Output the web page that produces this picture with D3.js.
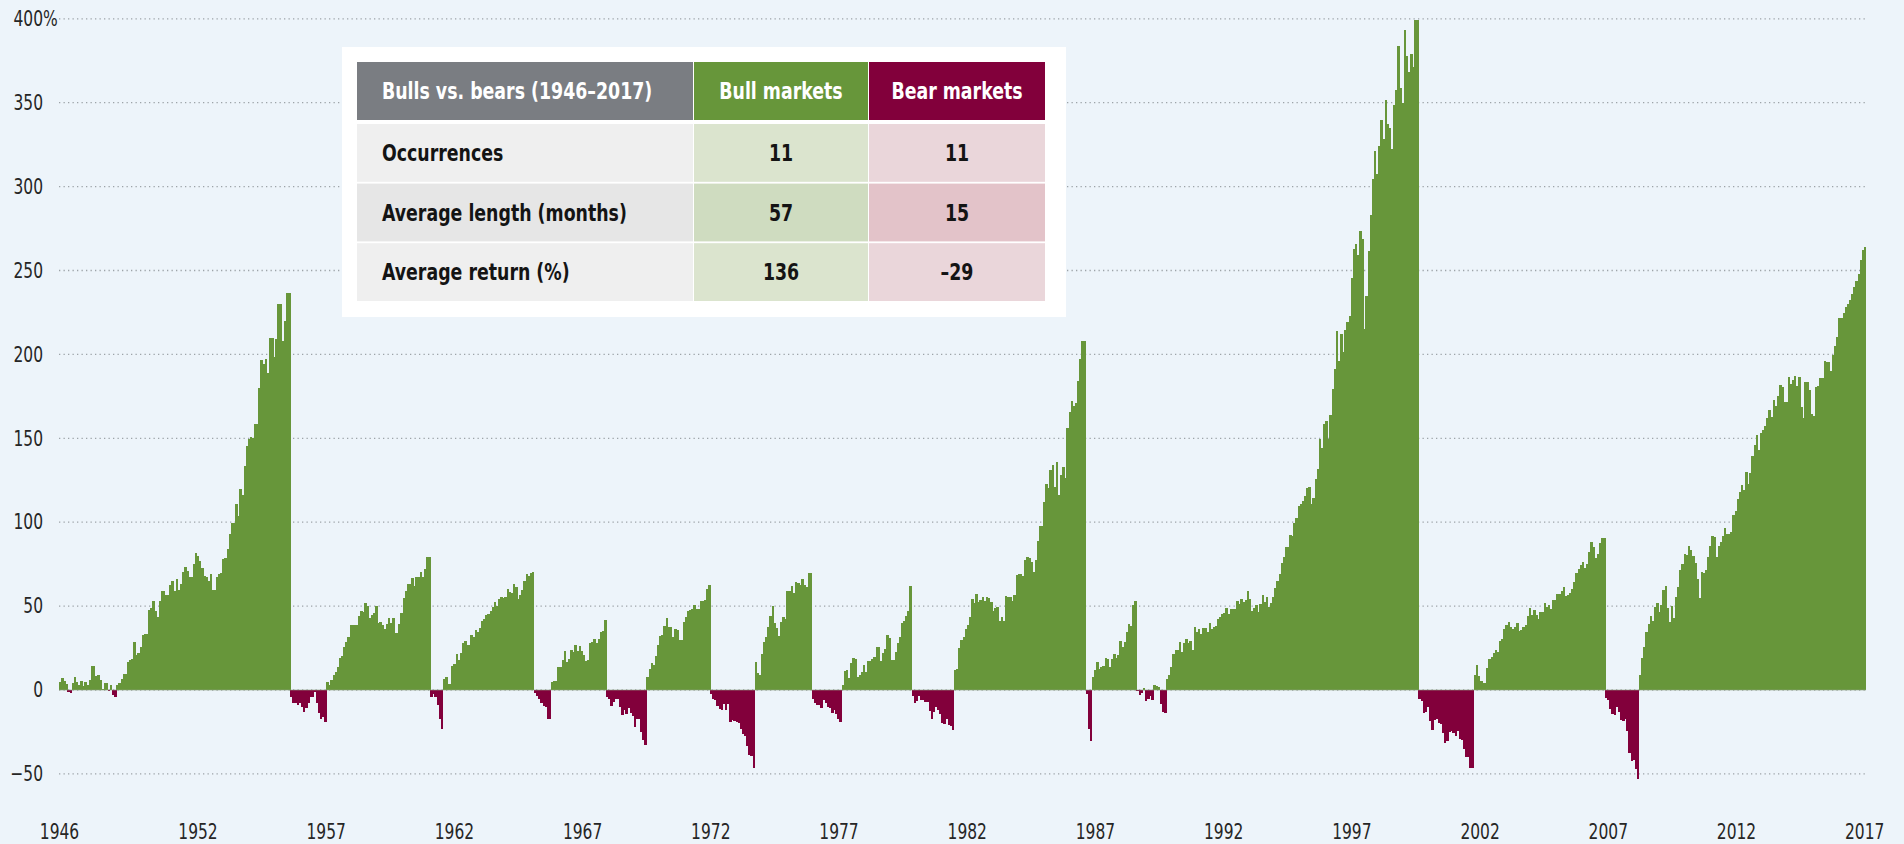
<!DOCTYPE html>
<html>
<head>
<meta charset="utf-8">
<script src="https://cdn.jsdelivr.net/npm/d3@7"></script>
<style>
  html, body { margin: 0; padding: 0; background: #edf4fa; }
  svg { display: block; }
  text { font-family: "Liberation Sans Narrow", "DejaVu Sans Condensed", "Arial Narrow", sans-serif; }
</style>
</head>
<body>
<svg id="chart"></svg>
<script>
// cumulative return (%) inside each market, one value per month
var start1946 = [4.8, 7, 5.4, 3.6, -1, -2, 4, 7.7, 4.8, 3.2, 5.4, 2.6, 4.8, 3, 6, 14.3, 14.3, 8.3, 9.1, 6,
  0.8, 4, 4, -0.5, 3, -3, -4, 3, 4.2, 6.7, 9.7, 9.7, 16.5, 17.9, 18.3, 28.6, 20.8, 22, 25.8, 33,
  33.3, 33.3, 47.8, 48.6, 53, 47, 43.3, 52.8, 59, 59, 56.6, 56.4, 62.6, 65, 59.2, 66.3, 59.6, 63.2, 70.3, 73.5,
  70.9, 67.5, 67.5, 75, 81.5, 79.9, 76.9, 72.7, 67.9, 67.5, 65, 69.1, 59.6, 59.6, 67.5, 69.1, 69.5, 78, 78.5, 84.2,
  93, 99.3, 99.7, 110.8, 103.7, 120, 116, 133.5, 145.2, 149.8, 150.6, 150, 158.7, 158.3, 179.8, 196.4, 194.4, 197.4, 189, 210,
  210, 198.4, 209, 230.2, 229.8, 208, 220, 236.5, 236.5];
var bear1956 = [-4, -8, -8, -9, -8, -10, -13, -11, -8, -4, -4, -1, -8, -14, -17, -16, -19];
var bull1957 = [4.8, 3, 5.8, 9, 10.7, 14, 19.3, 20.3, 25.6, 28.6, 31.8, 38.6, 39, 39, 39, 44.3, 47.1, 46.7, 51.7, 50.1,
  42.7, 44.7, 45.7, 50.1, 39.8, 40.6, 39, 36.6, 39.6, 42.9, 39.8, 42.9, 34.2, 34.2, 39.4, 45.9, 54.7, 59, 63.4, 63.4,
  66.6, 62, 67.2, 67.2, 70.6, 67.4, 72.2, 79.1, 79.1];
var bear1961 = [-4, -2.4, -4, -8.7, -17, -23.5];
var bull1962 = [6.4, 8, 3.4, 3.8, 14.5, 15.5, 21.5, 17.9, 22.3, 27.8, 29.4, 26.8, 26.8, 32.8, 31.4, 35.8, 34.4, 37.2, 41.4, 42.1,
  44.7, 45.3, 46.9, 49.7, 52.5, 50.1, 54.5, 55.3, 54.9, 55.7, 60.4, 58.3, 58.1, 63.2, 61.6, 54.1, 56.5, 59.8, 65, 69.2,
  67.8, 69.6, 70.2];
var bear1966 = [-1.6, -3.8, -5.2, -8, -9.3, -10.1, -17.1, -17.5];
var bull1966 = [5, 5.2, 5.4, 13.7, 13.7, 17.9, 23.3, 16.5, 18.7, 23.9, 22.9, 26.6, 23.1, 26.4, 23.5, 20.9, 17.5, 18.1, 27.8, 28.8,
  30.2, 28.2, 30.2, 34.6, 35.4, 42];
var bear1968 = [-4.4, -5.6, -9.3, -7.2, -5.2, -5.2, -9.9, -15.1, -11.9, -14.3, -10.7, -13.9, -15.3, -21.9, -17.5, -17.5, -24.9, -29.8, -33];
var bull1970 = [7.8, 12.5, 15.9, 14.9, 20.3, 26.8, 32, 32.8, 38.2, 43.1, 37.6, 37.6, 31.8, 36.4, 35.6, 29.8, 29.8, 40.4, 43.5, 47.1,
  47.7, 48.1, 50.5, 48.1, 48.1, 52.9, 53.3, 53.7, 60.4, 62.4];
var bear1973 = [-2.4, -5.6, -6.2, -9.5, -11.3, -11.9, -8.2, -11.9, -8.2, -18.9, -17.9, -18.5, -18.9, -19.9, -23.5, -26.2, -27.4, -33.4, -38.8, -39.2, -46.3];
var bull1974 = [16.7, 10.3, 8.7, 21.3, 28.6, 31.4, 37.8, 44.1, 50.1, 40.2, 37, 32.4, 40.4, 43.7, 42.3, 59, 58.8, 62, 58, 64.4,
  63.6, 62.8, 66, 62.4, 61.6, 69.6, 69.6];
var bear1976 = [-5.6, -7.6, -8.9, -8.9, -10.9, -6, -7.6, -9.9, -10.5, -13.5, -11.9, -14.3, -17.3, -19.1];
var bull1978 = [3.2, 11.5, 11.9, 7.4, 16.1, 19.1, 18.5, 7.6, 8.7, 10.5, 15.1, 10.9, 17.1, 17.1, 18.5, 19.5, 25.8, 25.8, 17.3, 22.3,
  24.5, 32.6, 31, 17.9, 17.9, 22.7, 28.2, 31.8, 40, 41.2, 44.3, 47.1, 62];
var bear1980 = [-3.4, -7.9, -6.3, -3.6, -5.8, -5.8, -6.9, -6.9, -12.7, -17.3, -13.1, -10.3, -11.9, -14.3, -19.8, -20.2, -17.1, -20.8, -21.4, -23.8];
var bull1982 = [11.9, 12.7, 24.8, 29.8, 31.7, 36.1, 38.7, 43.3, 54, 52, 57.1, 52.6, 53.6, 55.6, 53.2, 55.6, 54.6, 52.6, 47, 49,
  49.6, 41.1, 43.7, 41.1, 56, 55.6, 55.6, 53.2, 56.5, 68.3, 69.4, 69, 68.1, 77.4, 79.4, 78.4, 76.2, 70.4, 77.4, 88.9,
  97.8, 97.8, 112.1, 123, 120.2, 131, 134.3, 121, 135.9, 116.5, 128, 132.9, 126.4, 156.2, 165.7, 172.4, 169.4, 171, 183.9, 197.4,
  207.9, 207.9];
var bear1987 = [-2.4, -23.4, -30.2];
var bull1987 = [7.7, 11.9, 16.7, 12.3, 13.9, 14.3, 18.8, 18.3, 13.9, 18.5, 21.4, 18.8, 20.8, 29.4, 25.8, 28.6, 34.7, 39.3, 38.3, 50.6, 52.8];
var bear1989 = [-0.6, -3.2, -1.5, 1, -6.3, -5.6, -3.4, -6, 3.2, 2.4, 1.6, -8.3, -12.9, -13.5];
var bull1990 = [6.3, 8.9, 13.9, 21.2, 23.8, 23.8, 28.4, 22.8, 28.2, 30.2, 28.2, 29.2, 23.8, 37.3, 34.7, 36.1, 33.3, 36.7, 36.7, 34.3,
  39.7, 36.5, 37.7, 38.3, 42.3, 43.7, 45, 46, 49, 45.2, 48.4, 48.4, 48, 53, 51.2, 54, 52.4, 53.6, 58.9, 54,
  47.2, 48.8, 50.6, 46.6, 51.2, 56.5, 52.6, 55.6, 49.6, 51.6, 55.2, 60.5, 64.9, 69.4, 75.4, 79.4, 85.1, 85.1, 92.3, 91.7,
  99.6, 102.8, 109.5, 110.7, 112.7, 115.5, 120.3, 120.7, 110.7, 114.7, 126, 132, 149.3, 144, 158.8, 160.2, 149.5, 163.8, 179.3, 191.5,
  214.1, 196.3, 212, 201.2, 214.5, 219.5, 222.9, 245.8, 262.8, 265.8, 259.3, 273.4, 269, 215.1, 234.8, 261.6, 283.1, 304.6, 321.3, 307.8,
  323.9, 339.8, 328.6, 351.7, 337.2, 334.8, 322.5, 348.7, 357.3, 383.9, 358.5, 349.9, 393.4, 378.1, 368, 378.9, 371.2, 399.4, 399.4];
var bear2000 = [-5.6, -6.4, -13.5, -13.1, -10.3, -18.3, -23.9, -17.9, -17.5, -19.9, -20.3, -25.4, -31.4, -30.6, -25, -24.7, -25.8, -27.2, -24.7, -29.4,
  -29.8, -35, -40.2, -40.2, -46.3, -46.3];
var bull2002 = [8.7, 15.1, 8.3, 5.6, 4, 4.4, 12.9, 18.3, 19.9, 22.3, 23.9, 22.9, 29.2, 30.2, 36.6, 39, 40.6, 37.8, 36.6, 37.4,
  40.2, 35.4, 35.8, 37.4, 39, 44.1, 48.9, 44.5, 47.7, 44.9, 42.5, 46.5, 46.5, 51.7, 49.7, 50.9, 48.3, 53.7, 53.7, 57.3,
  57.3, 59, 61.2, 56.3, 56.5, 57.7, 60, 64.4, 69.6, 72.2, 74.4, 76.5, 73, 74.8, 82.3, 88.1, 85.1, 78.7, 81.1, 87.5,
  90.5, 90.5];
var bear2007 = [-4.8, -6, -11.5, -14.3, -14.7, -10.3, -12.9, -17.9, -18.3, -17.5, -24.7, -37.4, -42.3, -41.7, -46.9, -52.9];
var bull2009 = [8.9, 18.9, 25.4, 34.6, 39.4, 44.1, 41.2, 49.3, 52.1, 46.5, 50.7, 59.6, 62, 48.7, 40.8, 50.1, 42.7, 55.7, 61.2, 71.6,
  75.1, 81.1, 80.7, 85.9, 83.5, 79.9, 75.9, 66.4, 54.7, 70.6, 70, 71.6, 79.1, 86.1, 92, 91, 79.1, 85.9, 88.1, 91.6,
  96.6, 92.8, 93, 94.4, 104.4, 106.6, 113.9, 117.7, 122.3, 118.9, 129.8, 122.7, 129.2, 139.6, 146.1, 152.1, 143.1, 153.1, 155.1, 157.1,
  162, 167, 162.9, 173, 169, 175, 181.7, 180.5, 171.8, 171.8, 186.5, 182.1, 184.5, 187.3, 181.3, 186.5, 168.6, 161.8, 183.3, 183.7,
  178.5, 164.6, 163.4, 180.5, 181.3, 185.7, 186.1, 196, 195.6, 195.6, 189.9, 199.6, 205.2, 210.3, 221.7, 221.7, 224.7, 228.2, 230.2, 232.6,
  236, 240, 244, 248, 256, 262, 264];

var yTicks = [-50, 0, 50, 100, 150, 200, 250, 300, 350, 400];
var yearTicks = [1946, 1952, 1957, 1962, 1967, 1972, 1977, 1982, 1987, 1992, 1997, 2002, 2007, 2012, 2017];

var tableHead = ["Bulls vs. bears (1946\u20132017)", "Bull markets", "Bear markets"];
var tableRows = ["Occurrences", "Average length (months)", "Average return (%)"];
var bullStats = ["11", "57", "136"];
var bearStats = ["11", "15", "\u201329"];

var monthly = [].concat(start1946, bear1956, bull1957, bear1961, bull1962, bear1966, bull1966, bear1968,
  bull1970, bear1973, bull1974, bear1976, bull1978, bear1980, bull1982, bear1987, bull1987, bear1989,
  bull1990, bear2000, bull2002, bear2007, bull2009);

var width = 1904;
var height = 844;
var left = 59, right = 1866;
var green = "#67963a", maroon = "#82003b";
var squeeze = 0.82;   // the original uses a condensed face

var svg = d3.select("#chart").attr("width", width).attr("height", height);

svg.append("rect").attr("width", width).attr("height", height).attr("fill", "#edf4fa");

var yScale = d3.scaleLinear()
  .domain([-50, 400])
  .range([773.9, 18.8]);

var xScale = d3.scaleBand()
  .domain(d3.range(monthly.length))
  .range([left, right])
  .padding(0);

// the year labels run on their own calendar scale across the same span
var yearScale = d3.scaleLinear()
  .domain([1946.6, 2017.07])
  .range([left, right]);

// dotted grid
svg.append("g")
  .selectAll("line")
  .data(yTicks)
  .enter()
  .append("line")
    .attr("x1", left)
    .attr("x2", right + 2)
    .attr("y1", d => yScale(d))
    .attr("y2", d => yScale(d))
    .attr("stroke", "#9da3a8")
    .attr("stroke-width", 1.3)
    .attr("stroke-dasharray", "1.3,3.2");

svg.append("g")
  .selectAll("rect")
  .data(monthly)
  .enter()
  .append("rect")
    .attr("x", (d, i) => xScale(i))
    .attr("width", xScale.bandwidth() + 0.4)
    .attr("y", d => yScale(Math.max(0, d)))
    .attr("height", d => Math.abs(yScale(d) - yScale(0)))
    .attr("fill", d => d >= 0 ? green : maroon)
    .attr("shape-rendering", "crispEdges");

// zero line
svg.append("line")
  .attr("x1", left).attr("x2", right)
  .attr("y1", yScale(0)).attr("y2", yScale(0))
  .attr("stroke", "#8fa383")
  .attr("stroke-width", 1)
  .attr("opacity", 0.6);

var yAxis = d3.axisLeft(yScale)
  .tickValues(yTicks)
  .tickSize(0)
  .tickPadding(0)
  .tickFormat(d => d < 0 ? "\u2212" + Math.abs(d) : d);

var yAxisG = svg.append("g")
  .attr("transform", "translate(43,0)")
  .call(yAxis);
yAxisG.select(".domain").remove();
yAxisG.selectAll("text")
  .attr("fill", "#262626")
  .attr("transform", "scale(" + squeeze + ",1)")
  .style("font-size", "21px");
yAxisG.selectAll(".tick")
  .filter(d => d === 400)
  .append("text")
    .attr("x", 0)
    .attr("dy", "0.32em")
    .attr("fill", "#262626")
    .attr("text-anchor", "start")
    .attr("transform", "scale(" + squeeze + ",1)")
    .style("font-size", "21px")
    .text("%");

var xAxis = d3.axisBottom(yearScale)
  .tickValues(yearTicks.map(d => d === 1946 ? yearScale.domain()[0] : d))
  .tickSize(0)
  .tickPadding(0)
  .tickFormat(d => Math.floor(d));

var xAxisG = svg.append("g")
  .attr("transform", "translate(0,824)")
  .call(xAxis);
xAxisG.select(".domain").remove();
xAxisG.selectAll("text")
  .attr("fill", "#262626")
  .attr("transform", "scale(" + squeeze + ",1)")
  .style("font-size", "21px");

// summary table
var box = svg.append("g");
box.append("rect")
  .attr("x", 342).attr("y", 47)
  .attr("width", 724).attr("height", 270)
  .attr("fill", "#ffffff");

var colX = d3.scaleOrdinal().domain([0, 1, 2]).range([357, 694, 869]);
var colW = d3.scaleOrdinal().domain([0, 1, 2]).range([336, 174, 176]);
var headFill = ["#7a7d82", green, maroon];
var cellFill = [
  ["#efefef", "#e6e6e6", "#efefef"],
  ["#dbe4ce", "#cfdcc0", "#dbe4ce"],
  ["#ead6da", "#e3c3c9", "#ead6da"]
];
var rowY = d3.scaleBand()
  .domain(d3.range(tableRows.length))
  .range([124, 301])
  .paddingInner(0.03);

box.selectAll(".head")
  .data(tableHead)
  .enter()
  .append("rect")
    .attr("x", (d, i) => colX(i))
    .attr("y", 62)
    .attr("width", (d, i) => colW(i))
    .attr("height", 58)
    .attr("fill", (d, i) => headFill[i]);

box.selectAll(".headText")
  .data(tableHead)
  .enter()
  .append("text")
    .attr("transform", (d, i) => "translate(" + (i === 0 ? 382 : colX(i) + colW(i) / 2) + ",91) scale(0.84,1)")
    .attr("dy", "0.35em")
    .attr("text-anchor", (d, i) => i === 0 ? "start" : "middle")
    .attr("fill", "#ffffff")
    .style("font-size", "23px")
    .style("font-weight", "bold")
    .text(d => d);

var columns = [tableRows, bullStats, bearStats];
columns.forEach(function(col, c) {
  box.selectAll(".cell" + c)
    .data(col)
    .enter()
    .append("rect")
      .attr("x", colX(c))
      .attr("y", (d, r) => rowY(r))
      .attr("width", colW(c))
      .attr("height", rowY.bandwidth())
      .attr("fill", (d, r) => cellFill[c][r]);
  box.selectAll(".txt" + c)
    .data(col)
    .enter()
    .append("text")
      .attr("transform", (d, r) => "translate(" + (c === 0 ? 382 : colX(c) + colW(c) / 2) + "," +
        (rowY(r) + rowY.bandwidth() / 2) + ") scale(0.84,1)")
      .attr("dy", "0.35em")
      .attr("text-anchor", c === 0 ? "start" : "middle")
      .attr("fill", "#141414")
      .style("font-size", "23px")
      .style("font-weight", "bold")
      .text(d => d);
});
</script>
</body>
</html>
